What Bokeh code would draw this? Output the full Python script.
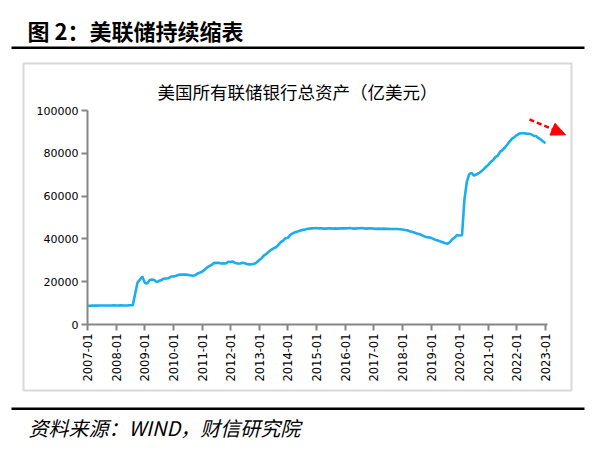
import math
from bokeh.plotting import figure
from bokeh.models import FixedTicker, Range1d, NumeralTickFormatter
from bokeh.core.properties import value
from bokeh.embed import file_html
from bokeh.resources import INLINE

# ---------------- data (亿美元, month-end) ----------------
years = list(range(2007, 2024))
v2007 = [8750, 8780, 8800, 8820, 8840, 8850, 8850, 8900, 8880, 8860, 8900, 8920]
v2008 = [8890, 8880, 8950, 8880, 8900, 8930, 8990, 9050, 14500, 19700, 21000, 22400]
v2009 = [19500, 19100, 20700, 21000, 20800, 19800, 20300, 20800, 21400, 21500, 21600, 22400]
v2010 = [22500, 22700, 23100, 23400, 23300, 23400, 23200, 23000, 22800, 23000, 23700, 24200]
v2011 = [24700, 25500, 26500, 27300, 27800, 28700, 28800, 28800, 28500, 28600, 28500, 29300]
v2012 = [29200, 29400, 28700, 28500, 28500, 28900, 28600, 28200, 28100, 28200, 28400, 29100]
v2013 = [30100, 31000, 32300, 33000, 34000, 34900, 35600, 36100, 37200, 38500, 39200, 40300]
v2014 = [40500, 41900, 42600, 43100, 43400, 43800, 44200, 44300, 44600, 44800, 44900, 45000]
v2015 = [45100, 44900, 44900, 44800, 44800, 44900, 44900, 44800, 44900, 44800, 44900, 44900]
v2016 = [44900, 45000, 45100, 44900, 44800, 44900, 45000, 45100, 44900, 44800, 44900, 44900]
v2017 = [44800, 44700, 44800, 44700, 44800, 44700, 44700, 44600, 44600, 44600, 44600, 44500]
v2018 = [44400, 44200, 44000, 43600, 43300, 43000, 42500, 42300, 41800, 41300, 40900, 40700]
v2019 = [40500, 40000, 39500, 39200, 38800, 38400, 38000, 37700, 38600, 39900, 40700, 41800]
v2020 = [41600, 41700, 58100, 66600, 70200, 70900, 69600, 70100, 70700, 71500, 72500, 73600]
v2021 = [74600, 75900, 76800, 78200, 78900, 80700, 81600, 82700, 84100, 85600, 86900, 87600]
v2022 = [88500, 89200, 89400, 89400, 89200, 89100, 88900, 88200, 88100, 87200, 86500, 85500]
v2023 = [84700]

values = (v2007 + v2008 + v2009 + v2010 + v2011 + v2012 + v2013 + v2014 + v2015
          + v2016 + v2017 + v2018 + v2019 + v2020 + v2021 + v2022 + v2023)
months = list(range(len(values)))

x_tick_pos = [12 * i for i in range(len(years))]
x_tick_labels = [f"{y}-01" for y in years]
y_ticks = [0, 20000, 40000, 60000, 80000, 100000]

header_text = "图 2：美联储持续缩表"
chart_title = "美国所有联储银行总资产（亿美元）"
footer_text = "资料来源：WIND，财信研究院"

CJK = "Noto Sans CJK SC"
GRAY_BOX = "#d9d9d9"

# ---------------- geometry: one figure whose frame is the whole canvas ----------------
W, H = 600, 453
ORIGIN_X, ORIGIN_Y = 87, 324          # pixel position of (2007-01, 0)
PX_PER_MONTH = 458 / 192              # 2007-01 .. 2023-01 spans 458 px
UNITS_PER_PX = 100000 / 214           # 0 .. 100000 spans 214 px


def X(px):
    return (px - ORIGIN_X) / PX_PER_MONTH


def Y(py):
    return (ORIGIN_Y - py) * UNITS_PER_PX


p = figure(width=W, height=H, output_backend="svg", toolbar_location=None,
           title=None, x_range=Range1d(X(0), X(W)), y_range=Range1d(Y(H), Y(0)),
           min_border=0)
p.outline_line_color = None
p.grid.visible = False
p.background_fill_color = "white"
p.border_fill_color = "white"

# ---------------- frame decorations ----------------
p.text(x=[X(27)], y=[Y(29)], text=[header_text], text_font=value(CJK),
       text_font_size="22px", text_font_style="bold", text_color="black",
       text_align="left", text_baseline="middle")
p.quad(left=[X(11), X(11)], right=[X(584), X(584)],
       top=[Y(46), Y(407)], bottom=[Y(48.5), Y(409.5)],
       fill_color="black", line_color=None)
p.quad(left=[X(23)], right=[X(571)], top=[Y(63)], bottom=[Y(390)],
       fill_alpha=0, line_color=GRAY_BOX, line_width=2)
p.text(x=[X(297)], y=[Y(91)], text=[chart_title], text_font=value(CJK),
       text_font_size="17.5px", text_color="black",
       text_align="center", text_baseline="middle")
p.text(x=[X(28)], y=[Y(427)], text=[footer_text], text_font=value(CJK),
       text_font_size="20px", text_font_style="italic", text_color="black",
       text_align="left", text_baseline="middle")

# ---------------- series ----------------
p.line(months, values, line_color="#1AADEF", line_width=2.6)

# red dashed trend arrow
p.segment(x0=[X(529)], y0=[Y(119)], x1=[X(552)], y1=[Y(128.6)],
          line_color="red", line_width=2.5, line_dash="5 3")
p.patch([X(565), X(554.5), X(549.5)], [Y(134.3), Y(122.8), Y(134.6)],
        fill_color="red", line_color="red", line_width=1)

# ---------------- axes (library axes pinned at the data origin) ----------------
axis_gray = "#868686"
for ax in (p.xaxis[0], p.yaxis[0]):
    ax.axis_line_color = axis_gray
    ax.axis_line_width = 2
    ax.major_tick_line_color = axis_gray
    ax.major_tick_line_width = 2
    ax.major_tick_out = 6
    ax.major_tick_in = 0
    ax.minor_tick_line_color = None
    ax.major_label_text_font = "DejaVu Sans"
    ax.major_label_text_color = "black"

p.xaxis.fixed_location = 0
p.xaxis.bounds = (0, 193)
p.xaxis.ticker = FixedTicker(ticks=x_tick_pos)
p.xaxis.major_label_overrides = {pos: lab for pos, lab in zip(x_tick_pos, x_tick_labels)}
p.xaxis.major_label_orientation = math.pi / 2
p.xaxis.major_label_standoff = 3
p.xaxis.major_label_text_font_size = "11.5px"

p.yaxis.fixed_location = 0
p.yaxis.bounds = (0, 100000)
p.yaxis.ticker = FixedTicker(ticks=y_ticks)
p.yaxis.formatter = NumeralTickFormatter(format="0")
p.yaxis.major_label_standoff = 3
p.yaxis.major_label_text_font_size = "11px"

open("out.html", "w").write(file_html(p, INLINE))
